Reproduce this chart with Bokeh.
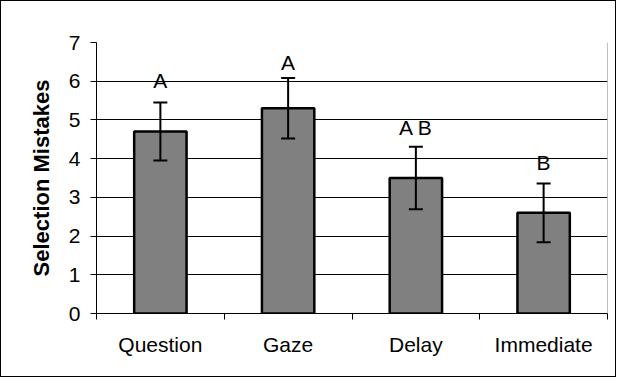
from bokeh.plotting import figure
from bokeh.models import ColumnDataSource, Range1d, FixedTicker, Whisker, TeeHead, Span
from bokeh.core.properties import value
from bokeh.embed import file_html
from bokeh.resources import INLINE

categories = ["Question", "Gaze", "Delay", "Immediate"]
means = [4.70, 5.30, 3.50, 2.60]
errors = [0.75, 0.78, 0.81, 0.76]
letters = ["A", "A", "A B", "B"]
letter_y = [5.72, 6.18, 4.5, 3.6]
y_ticks = [0, 1, 2, 3, 4, 5, 6, 7]

xs = [i + 0.5 for i in range(len(categories))]
upper = [m + e for m, e in zip(means, errors)]
lower = [m - e for m, e in zip(means, errors)]
src = ColumnDataSource(dict(x=xs, mean=means, upper=upper, lower=lower,
                            letter=letters, ly=letter_y))

FONT = "Liberation Sans"

p = figure(output_backend="svg", toolbar_location=None,
           frame_width=511, frame_height=271,
           min_border_left=95, min_border_top=41, min_border_right=8, min_border_bottom=63,
           x_range=Range1d(0, len(categories)), y_range=Range1d(0, 7))
p.styles = {"border": "1px solid black"}
p.background_fill_color = "white"
p.border_fill_color = "white"
p.outline_line_color = None

p.add_layout(Span(location=len(categories), dimension="height",
                  line_color="#808080", line_width=1))

p.vbar(x="x", top="mean", width=0.41, bottom=0, source=src,
       fill_color="#808080", line_color="black", line_width=2.5)

w = Whisker(base="x", upper="upper", lower="lower", source=src, level="overlay",
            line_color="black", line_width=2,
            upper_head=TeeHead(size=14, line_width=2, line_color="black"),
            lower_head=TeeHead(size=14, line_width=2, line_color="black"))
p.add_layout(w)

p.text(x="x", y="ly", text="letter", source=src, text_align="center",
       text_baseline="bottom", text_font=value(FONT),
       text_font_size="21px", text_color="black")

# y axis
p.yaxis.ticker = FixedTicker(ticks=y_ticks)
p.yaxis.axis_line_color = "black"
p.yaxis.major_tick_out = 6
p.yaxis.major_tick_in = 0
p.yaxis.minor_tick_line_color = None
p.yaxis.major_label_text_font = FONT
p.yaxis.major_label_text_font_size = "21px"
p.yaxis.major_label_text_color = "black"
p.yaxis.major_label_standoff = 10
p.yaxis.axis_label = "Selection Mistakes"
p.yaxis.axis_label_text_font = FONT
p.yaxis.axis_label_text_font_style = "bold"
p.yaxis.axis_label_text_font_size = "22px"
p.yaxis.axis_label_text_color = "black"
p.yaxis.axis_label_standoff = 12

# x axis
p.xaxis.ticker = FixedTicker(ticks=xs, minor_ticks=list(range(len(categories) + 1)))
p.xaxis.major_label_overrides = {x: c for x, c in zip(xs, categories)}
p.xaxis.axis_line_color = "black"
p.xaxis.major_tick_line_color = None
p.xaxis.major_tick_out = 0
p.xaxis.major_tick_in = 0
p.xaxis.minor_tick_out = 6
p.xaxis.minor_tick_in = 0
p.xaxis.minor_tick_line_color = "black"
p.xaxis.major_label_text_font = FONT
p.xaxis.major_label_text_font_size = "21px"
p.xaxis.major_label_text_color = "black"
p.xaxis.major_label_standoff = 13

p.xgrid.grid_line_color = None
p.ygrid.ticker = FixedTicker(ticks=y_ticks)
p.ygrid.grid_line_color = "black"
p.ygrid.grid_line_width = 1

open("out.html", "w").write(file_html(p, INLINE))
